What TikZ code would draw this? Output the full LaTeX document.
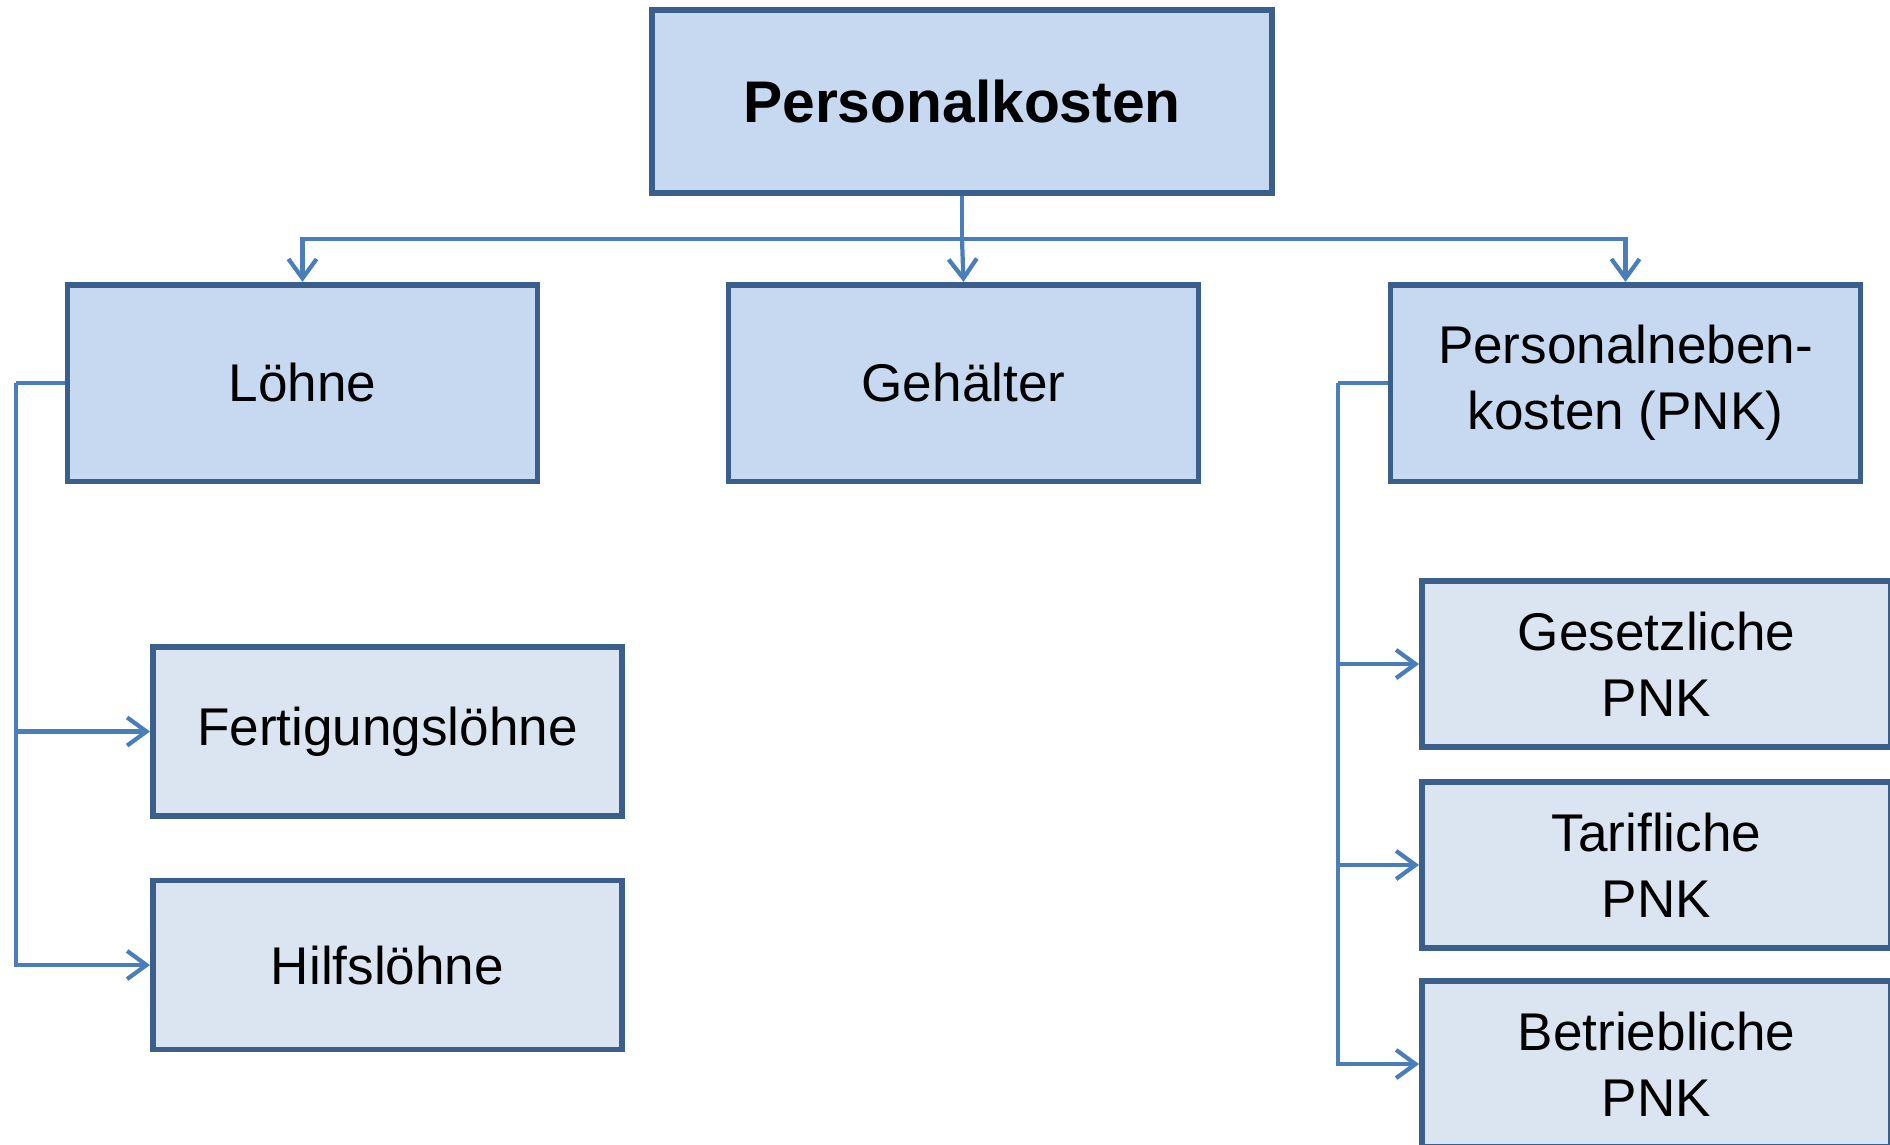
\documentclass[tikz,border=0pt]{standalone}
\usepackage{fontspec}
\setmainfont{Liberation Sans}
\usetikzlibrary{arrows.meta}
\definecolor{boxdark}{HTML}{C6D9F1}
\definecolor{boxlight}{HTML}{DBE5F1}
\definecolor{boxline}{HTML}{3A5F8C}
\definecolor{linkline}{HTML}{4A7EBB}
\tikzset{
  box/.style={draw=boxline, line width=1.6pt, fill=boxdark, align=center,
    inner sep=0pt, font=\fontsize{15.1}{18.7}\selectfont},
  subbox/.style={box, fill=boxlight},
  link/.style={draw=linkline, line width=1.2pt},
  arr/.style={link, -{Straight Barb[length=5.5pt, width=8pt, line width=1.2pt]}}
}
\begin{document}
\begin{tikzpicture}[x=0.01cm, y=-0.01cm]
\useasboundingbox (0,0) rectangle (1890,1144);

% top level
\node[box, minimum width=6.20cm, minimum height=1.83cm,
      font=\fontsize{16.7}{20}\selectfont\bfseries] (top) at (962,101.5) {Personalkosten};

% second level
\node[box, minimum width=4.70cm, minimum height=1.965cm] (loehne) at (302.5,383) {Löhne};
\node[box, minimum width=4.70cm, minimum height=1.965cm] (gehalt) at (963.5,383) {Gehälter};
\node[box, minimum width=4.70cm, minimum height=1.965cm] (pnk) at (1625.5,383) {Personalneben-\\kosten (PNK)};

% wage subdivisions
\node[subbox, minimum width=4.69cm, minimum height=1.69cm] (fert) at (387.5,731.5) {Fertigungslöhne};
\node[subbox, minimum width=4.69cm, minimum height=1.69cm] (hilf) at (387.5,965) {Hilfslöhne};

% PNK subdivisions
\node[subbox, minimum width=4.69cm, minimum height=1.66cm] (ges) at (1656.5,664) {Gesetzliche\\PNK};
\node[subbox, minimum width=4.69cm, minimum height=1.66cm] (tar) at (1656.5,865) {Tarifliche\\PNK};
\node[subbox, minimum width=4.69cm, minimum height=1.66cm] (bet) at (1656.5,1064) {Betriebliche\\PNK};

% bus from the top box
\coordinate (bus) at (962,239);
\draw[link] (top.south) -- (bus);
\draw[arr] (bus) -| (loehne.north);
\draw[arr] (bus) -- (gehalt.north);
\draw[arr] (bus) -| (pnk.north);

% left branch
\coordinate (lbus) at (15.7,383);
\draw[link] (loehne.west) -- (lbus);
\draw[arr] (lbus) |- (fert.west);
\draw[arr] (lbus) |- (hilf.west);

% right branch
\coordinate (rbus) at (1338,383);
\draw[link] (pnk.west) -- (rbus);
\draw[arr] (rbus) |- (ges.west);
\draw[arr] (rbus) |- (tar.west);
\draw[arr] (rbus) |- (bet.west);
\end{tikzpicture}
\end{document}
